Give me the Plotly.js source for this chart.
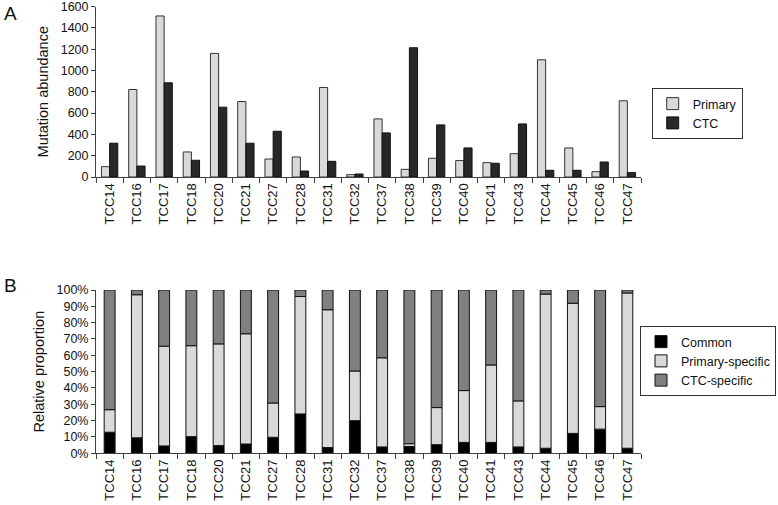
<!DOCTYPE html>
<html>
<head>
<meta charset="utf-8">
<script src="https://cdn.plot.ly/plotly-3.0.1.min.js"></script>
<style>html,body{margin:0;padding:0;background:#fff;}#chart{width:778px;height:505px;}</style>
</head>
<body>
<div id="chart"></div>
<script>
// ---- data ----
var categories = ['TCC14','TCC16','TCC17','TCC18','TCC20','TCC21','TCC27','TCC28','TCC31','TCC32','TCC37','TCC38','TCC39','TCC40','TCC41','TCC43','TCC44','TCC45','TCC46','TCC47'];
var primaryAbundance = [97, 821, 1511, 235, 1160, 708, 169, 188, 840, 22, 545, 72, 176, 154, 135, 219, 1100, 273, 50, 715];
var ctcAbundance = [317, 103, 884, 157, 655, 317, 429, 56, 147, 28, 414, 1213, 489, 273, 129, 498, 63, 63, 141, 41];
var commonPct = [12.9, 9.5, 4.5, 10.2, 4.7, 5.7, 9.8, 24.1, 3.5, 20.0, 3.9, 4.2, 5.3, 6.7, 6.7, 3.9, 3.1, 12.2, 14.8, 3.1];
var primarySpecificPct = [13.8, 87.6, 61.1, 55.7, 62.3, 67.5, 21.0, 71.9, 84.4, 30.4, 54.6, 1.7, 22.7, 31.7, 47.4, 28.2, 94.4, 79.7, 13.8, 95.1];
var ctcSpecificPct = [73.3, 2.9, 34.4, 34.1, 33.0, 26.8, 69.2, 4.0, 12.1, 49.6, 41.5, 94.1, 72.0, 61.6, 45.9, 67.9, 2.5, 8.1, 71.4, 1.8];
var yTicksA = [0, 200, 400, 600, 800, 1000, 1200, 1400, 1600];
var yTicksB = [0, 10, 20, 30, 40, 50, 60, 70, 80, 90, 100];
var yTickTextB = ['0%', '10%', '20%', '30%', '40%', '50%', '60%', '70%', '80%', '90%', '100%'];

// ---- figure ----
var W = 778, H = 505;
var FONT = 'Liberation Sans, Arial, sans-serif';
var INK = '#111111';
var base2 = commonPct.slice();
var base3 = commonPct.map(function (c, i) { return c + primarySpecificPct[i]; });

var traces = [
  {type:'bar', name:'Primary', x:categories, y:primaryAbundance, xaxis:'x', yaxis:'y',
   width:0.3, offset:-0.3, marker:{color:'#d9d9d9', line:{color:'#333', width:1}}, legend:'legend'},
  {type:'bar', name:'CTC', x:categories, y:ctcAbundance, xaxis:'x', yaxis:'y',
   width:0.3, offset:0, marker:{color:'#282828', line:{color:'#111', width:1}}, legend:'legend'},
  {type:'bar', name:'Common', x:categories, y:commonPct, xaxis:'x2', yaxis:'y2',
   width:0.4, marker:{color:'#000000', line:{color:'#111', width:1}}, legend:'legend2'},
  {type:'bar', name:'Primary-specific', x:categories, y:primarySpecificPct, base:base2, xaxis:'x2', yaxis:'y2',
   width:0.4, marker:{color:'#d9d9d9', line:{color:'#111', width:1}}, legend:'legend2'},
  {type:'bar', name:'CTC-specific', x:categories, y:ctcSpecificPct, base:base3, xaxis:'x2', yaxis:'y2',
   width:0.4, marker:{color:'#808080', line:{color:'#111', width:1}}, legend:'legend2'}
];

var xdom = [96 / W, 641 / W];
function xaxisDef(anchor) {
  return {domain:xdom, anchor:anchor, type:'category', range:[-0.5, categories.length - 0.5],
    showline:true, linecolor:'#404040', linewidth:1, ticks:'outside', tickson:'boundaries',
    ticklen:5, tickcolor:'#404040', tickangle:-90, showgrid:false, zeroline:false,
    tickfont:{family:FONT, size:13, color:INK}, fixedrange:true};
}
var layout = {
  width:W, height:H, margin:{l:0, r:0, t:0, b:0},
  paper_bgcolor:'#fff', plot_bgcolor:'rgba(0,0,0,0)',
  barmode:'overlay', showlegend:true,
  font:{family:FONT, color:INK, size:12},
  xaxis: xaxisDef('y'),
  yaxis: {domain:[1 - 177 / H, 1 - 6.5 / H], anchor:'x', range:[0, 1600], tickmode:'array', tickvals:yTicksA,
    ticklabeloverflow:'allow', showline:true, linecolor:'#404040', linewidth:1, ticks:'outside', ticklen:4, tickcolor:'#404040',
    showgrid:false, zeroline:false, tickfont:{family:FONT, size:12.5, color:INK},
    title:{text:'Mutation abundance', font:{family:FONT, size:14.5, color:INK}, standoff:8}},
  xaxis2: xaxisDef('y2'),
  yaxis2: {domain:[1 - 453.3 / H, 1 - 290 / H], anchor:'x2', range:[0, 100], tickmode:'array',
    tickvals:yTicksB, ticktext:yTickTextB, ticklabeloverflow:'allow',
    showline:true, linecolor:'#404040', linewidth:1, ticks:'outside', ticklen:4, tickcolor:'#404040',
    showgrid:false, zeroline:false, tickfont:{family:FONT, size:12.5, color:INK},
    title:{text:'Relative proportion', font:{family:FONT, size:14.5, color:INK}, standoff:8}},
  legend: {x:651.7 / W, xanchor:'left', y:1 - 88 / H, yanchor:'top', traceorder:'normal',
    bgcolor:'#fff', bordercolor:'#333', borderwidth:1, font:{family:FONT, size:12.5, color:INK}},
  legend2: {x:1 - 2 / W, xanchor:'right', y:1 - 326 / H, yanchor:'top', traceorder:'normal',
    bgcolor:'#fff', bordercolor:'#333', borderwidth:1, font:{family:FONT, size:12.5, color:INK}},
  annotations: [
    {text:'A', xref:'paper', yref:'paper', x:2 / W, y:1 - 13.5 / H, xanchor:'left', yanchor:'middle',
     showarrow:false, font:{family:FONT, size:19, color:INK}},
    {text:'B', xref:'paper', yref:'paper', x:2 / W, y:1 - 285 / H, xanchor:'left', yanchor:'middle',
     showarrow:false, font:{family:FONT, size:19, color:INK}}
  ]
};
Plotly.newPlot('chart', traces, layout, {displayModeBar:false, staticPlot:true});
</script>
</body>
</html>
